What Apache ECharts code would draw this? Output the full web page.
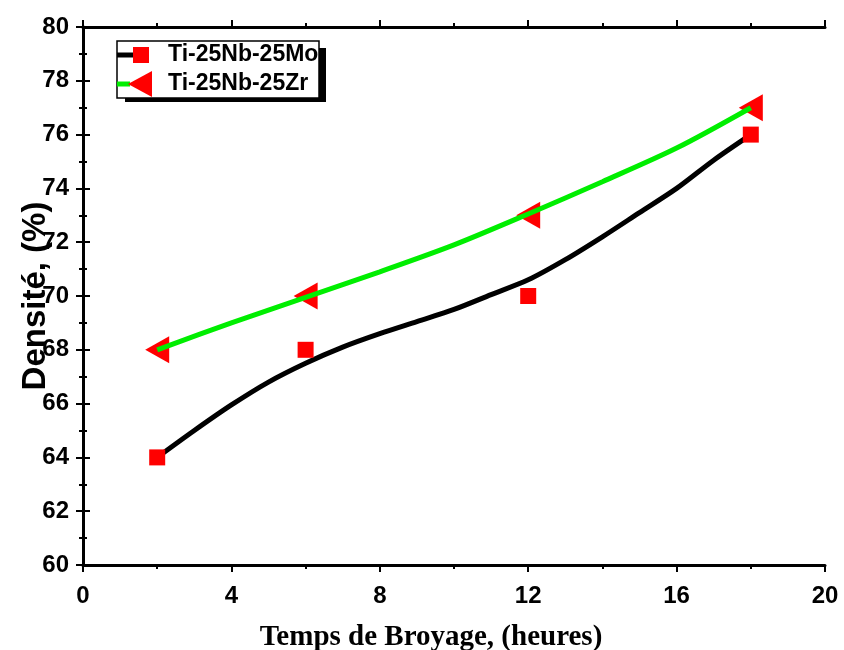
<!DOCTYPE html>
<html>
<head>
<meta charset="utf-8">
<script src="https://cdn.jsdelivr.net/npm/echarts@6/dist/echarts.min.js"></script>
<style>
html,body{margin:0;padding:0;background:#fff;}
#chart{width:844px;height:650px;}
</style>
</head>
<body>
<div id="chart"></div>
<script>
// mesures
var heures=[2,6,12,18];
var densiteMo=[64,68,70,76];
var densiteZr=[68,70,73,77];

// courbes lissées
var fitMoX=[2,3,4,5,6,7,8,9,10,11,12,13,14,15,16,17,18];
var fitMo=[64,65.0,65.95,66.8,67.5,68.1,68.6,69.05,69.5,70.05,70.6,71.35,72.2,73.1,74.0,75.05,76];
var fitZrX=[2,4,6,8,10,12,14,16,18];
var fitZr=[68,69,69.95,70.9,71.9,73.05,74.25,75.5,77];

var xTicks=[0,4,8,12,16,20];
var yTicks=[60,62,64,66,68,70,72,74,76,78,80];

function pairs(xs,ys){
	var out=[];
	for(var i=0;i<xs.length;i++){ out.push([xs[i],ys[i]]); }
	return out;
}

var myChart=echarts.init(document.getElementById('chart'));

var axisLine={lineStyle:{color:'#000',width:3}};
var tickBase={show:true,inside:false,length:7,lineStyle:{color:'#000',width:2}};
var minorBase={show:true,splitNumber:2,length:4,lineStyle:{color:'#000',width:2}};
var labelFont={fontFamily:'Liberation Sans, Arial',fontWeight:'bold',fontSize:24,color:'#000'};

var option={
	backgroundColor:'#fff',
	animation:false,
	grid:{left:83,right:19,top:27,bottom:85,containLabel:false,outerBoundsMode:'none'},
	xAxis:[{
		type:'value',min:xTicks[0],max:xTicks[xTicks.length-1],interval:4,
		axisLine:axisLine,axisTick:tickBase,minorTick:minorBase,
		splitLine:{show:false},
		axisLabel:Object.assign({margin:19},labelFont),
		name:'Temps de Broyage, (heures)',nameLocation:'middle',nameGap:58,nameMoveOverlap:false,
		nameTextStyle:{fontFamily:'Liberation Serif, Times New Roman',fontWeight:'bold',fontSize:29,color:'#000',padding:[0,46,0,0]}
	},{
		type:'value',position:'top',min:0,max:20,interval:4,
		axisLine:axisLine,axisTick:tickBase,minorTick:minorBase,
		splitLine:{show:false},axisLabel:{show:false}
	}],
	yAxis:[{
		type:'value',min:yTicks[0],max:yTicks[yTicks.length-1],interval:2,
		axisLine:axisLine,axisTick:tickBase,minorTick:minorBase,
		splitLine:{show:false},
		axisLabel:Object.assign({margin:14},labelFont),
		name:'Densité, (%)',nameLocation:'middle',nameGap:31,nameRotate:90,nameMoveOverlap:false,
		nameTextStyle:{fontFamily:'Liberation Sans, Arial',fontWeight:'bold',fontSize:33,color:'#000'}
	},{
		type:'value',position:'right',min:60,max:80,interval:2,
		axisLine:axisLine,axisTick:tickBase,minorTick:minorBase,
		splitLine:{show:false},axisLabel:{show:false}
	}],
	series:[{
		name:'fit Mo',type:'line',smooth:0.3,showSymbol:false,
		data:pairs(fitMoX,fitMo),
		lineStyle:{color:'#000',width:5},z:2
	},{
		name:'fit Zr',type:'line',smooth:0.3,showSymbol:false,
		data:pairs(fitZrX,fitZr),
		lineStyle:{color:'#00ee00',width:5},z:2
	},{
		name:'Ti-25Nb-25Mo',type:'scatter',symbol:'rect',symbolSize:16,
		data:pairs(heures,densiteMo),
		itemStyle:{color:'#ff0000',opacity:1},z:3
	},{
		name:'Ti-25Nb-25Zr',type:'scatter',symbol:'triangle',symbolRotate:90,symbolSize:[27,24],
		data:pairs(heures,densiteZr),
		itemStyle:{color:'#ff0000',opacity:1},z:1
	}],
	// légende dessinée à la main (trait + symbole)
	graphic:[
		{type:'rect',shape:{x:117,y:41,width:202,height:57},style:{fill:'#fff',stroke:'#000',lineWidth:1.5},z:11},
		{type:'line',shape:{x1:117,y1:55,x2:133,y2:55},style:{stroke:'#000',lineWidth:5},z:12},
		{type:'rect',shape:{x:133,y:47,width:16,height:16},style:{fill:'#ff0000'},z:12},
		{type:'text',style:{x:168,y:55,text:'Ti-25Nb-25Mo',verticalAlign:'middle',font:'bold 23px "Liberation Sans", Arial',fill:'#000'},z:12},
		{type:'line',shape:{x1:117,y1:84,x2:130,y2:84},style:{stroke:'#00ee00',lineWidth:5},z:12},
		{type:'polygon',shape:{points:[[128,84],[152,71],[152,97]]},style:{fill:'#ff0000'},z:12},
		{type:'text',style:{x:168,y:84,text:'Ti-25Nb-25Zr',verticalAlign:'middle',font:'bold 23px "Liberation Sans", Arial',fill:'#000'},z:12},
		// ombre portée
		{type:'rect',shape:{x:319,y:48,width:7,height:54},style:{fill:'#000'},z:13},
		{type:'rect',shape:{x:125,y:98,width:201,height:4},style:{fill:'#000'},z:13}
	]
};

myChart.setOption(option);
</script>
</body>
</html>
